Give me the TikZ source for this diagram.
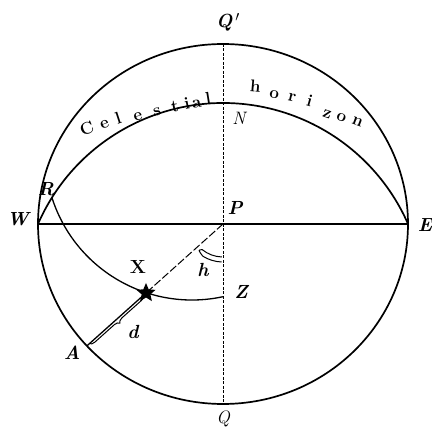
\documentclass[tikz,border=0pt]{standalone}
\usetikzlibrary{shapes.geometric,decorations.pathreplacing,calc}
\begin{document}
\begin{tikzpicture}[x=1pt,y=1pt,
  curve/.style={line width=1.7pt},
  thinline/.style={line width=1.3pt},
  lbl/.style={font=\fontsize{19}{19}\selectfont\bfseries\itshape, inner sep=0pt},
  lblup/.style={font=\fontsize{19}{19}\selectfont\bfseries, inner sep=0pt},
  lblit/.style={font=\fontsize{18}{18}\selectfont\itshape, inner sep=0pt},
  hz/.style={font=\fontsize{17}{17}\selectfont\bfseries, inner sep=0pt, anchor=base},
  ]
\useasboundingbox (0,0) rectangle (432,429);
\coordinate (P) at (223,205);
\coordinate (W) at (38,205);
\coordinate (E) at (408,205);
\coordinate (Qt) at (223,385);
\coordinate (Qb) at (223,25);
\coordinate (RC) at (192,276);
\coordinate (R) at ($(RC)+(197.8:147)$);
\coordinate (Z) at ($(RC)+(282.1:147)$);
\coordinate (X) at (146,136);
\coordinate (A) at (86.9,83.1);
% circles and lines
\draw[curve] (P) ellipse[x radius=185, y radius=180];
\draw[curve] (W) arc[start angle=156.35, end angle=23.65, radius=202];
\draw[thinline] (W) -- (E);
\draw[line width=0.8pt, dash pattern=on 3pt off 1.5pt] (Qt) -- (Qb);
\draw[thinline] (R) arc[start angle=197.8, end angle=282.1, radius=147];
\draw[line width=1pt, dash pattern=on 8pt off 2.5pt] (P) -- (X);
\draw[thinline] (X) -- (A);
\draw[line width=1pt, decorate, decoration={brace, amplitude=5pt}] ($(X)!0.04!(A)$) -- ($(X)!0.96!(A)$);
% angle mark h
\draw[line width=1pt] ($(P)+(268:33)$) arc[start angle=268, end angle=231, radius=33]
  .. controls ($(P)+(226:36)$) .. ($(P)+(238:38)$) arc[start angle=238, end angle=268, radius=38];
% star
\node[star, star points=5, star point ratio=2.2, fill, minimum size=20pt, inner sep=0pt] (star) at (X) {};
% labels
\node[lbl] (lQt) at (228,407) {Q$\,'$};
\node[lblit] (lN) at (239,311) {N};
\node[lbl] (lP) at (235,221) {P};
\node[lbl] (lW) at (18,210) {W};
\node[lbl] (lE) at (425,204) {E};
\node[lbl] (lR) at (46,240) {R};
\node[lblup] (lX) at (138,162) {X};
\node[lbl] (lh) at (203,159) {h};
\node[lbl] (lZ) at (241,137) {Z};
\node[lbl] (lA) at (72,76) {A};
\node[lbl] (ld) at (133,97) {d};
\node[lblit] (lQ) at (223,10) {Q};
% Celestial horizon
\node[hz, rotate=22] (c1) at (89,295) {C};
\node[hz, rotate=20] (c2) at (106,301) {e};
\node[hz, rotate=18] (c3) at (120,305) {l};
\node[hz, rotate=16] (c4) at (139,309) {e};
\node[hz, rotate=14] (c5) at (158,313) {s};
\node[hz, rotate=12] (c6) at (176,317) {t};
\node[hz, rotate=11] (c7) at (188,320) {i};
\node[hz, rotate=10] (c8) at (197.5,321.5) {a};
\node[hz, rotate=9] (c9) at (209,324.5) {l};
\node[hz, rotate=-5] (h1) at (255,337.3) {h};
\node[hz, rotate=-10] (h2) at (273.7,330.7) {o};
\node[hz, rotate=-13] (h3) at (291.3,327.3) {r};
\node[hz, rotate=-16] (h4) at (308.3,322.3) {i};
\node[hz, rotate=-19] (h5) at (326,311) {z};
\node[hz, rotate=-20] (h6) at (340,307.5) {o};
\node[hz, rotate=-21] (h7) at (356,304) {n};
\end{tikzpicture}
\end{document}
